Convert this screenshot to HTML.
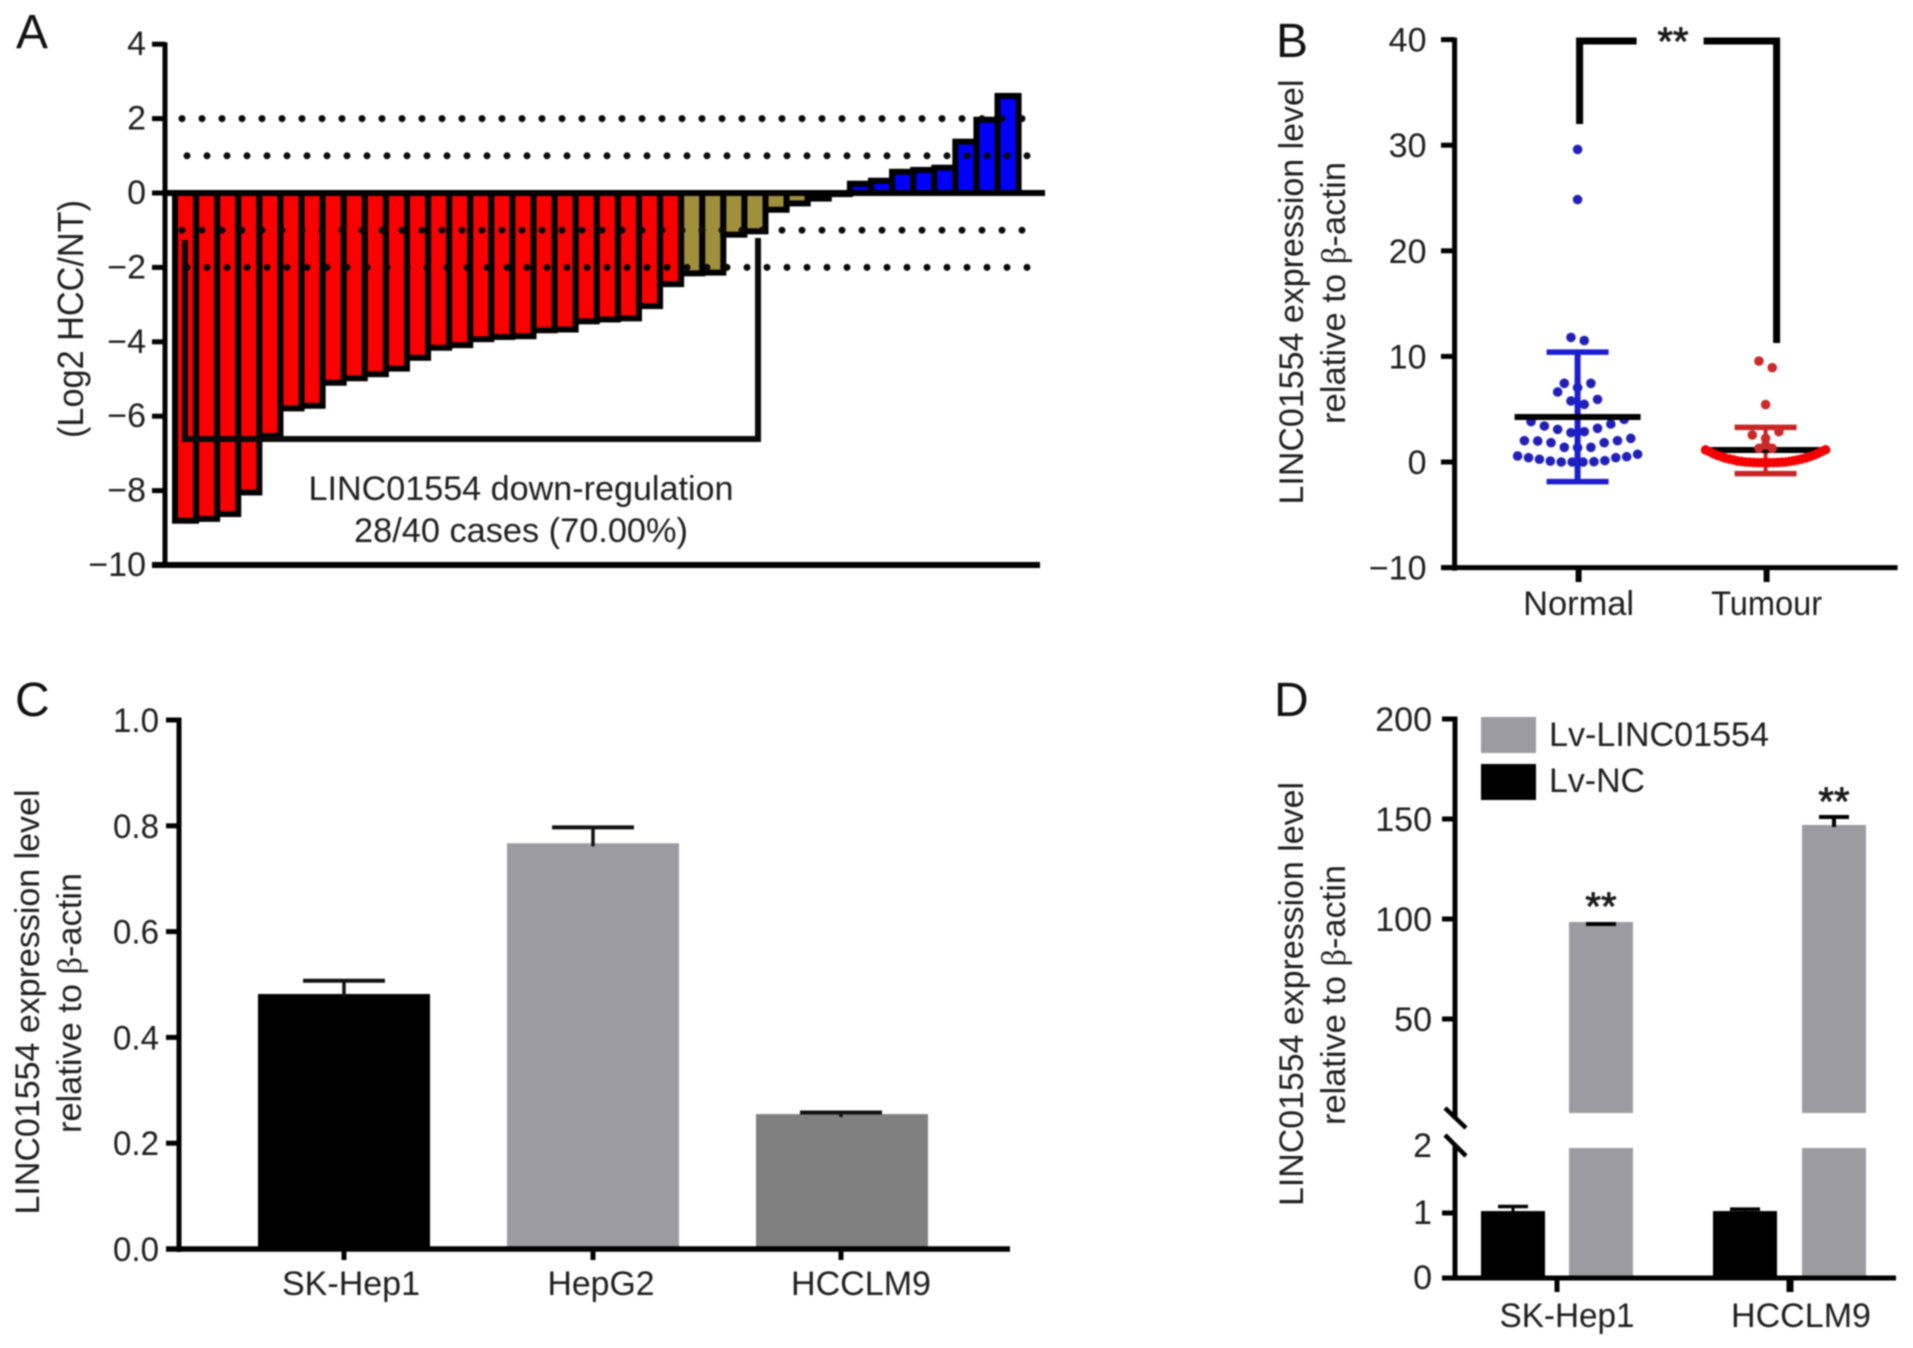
<!DOCTYPE html>
<html lang="en">
<head>
<meta charset="utf-8">
<title>LINC01554 expression figure</title>
<style>
  html, body { margin: 0; padding: 0; background: #fff; }
  body { width: 1913px; height: 1348px; overflow: hidden; }
  svg { display: block; filter: blur(0.7px); }
  text { font-family: "Liberation Sans", "DejaVu Sans", sans-serif; font-size: 34px; fill: #1e1e1e; }
  .panel-letter { font-size: 48px; fill: #111; }
  .serif { font-family: "Liberation Serif", serif; }
</style>
</head>
<body>
<svg id="fig" xmlns="http://www.w3.org/2000/svg" width="1913" height="1348" viewBox="0 0 1913 1348">
  <rect width="1913" height="1348" fill="#fff"/>

  <g id="panelA">
    <text class="panel-letter" x="16" y="48">A</text>
    <text transform="translate(83,319) rotate(-90)" text-anchor="middle" textLength="238" lengthAdjust="spacingAndGlyphs" style="font-size:36px">(Log2 HCC/NT)</text>
  </g>
  <g id="panelB">
    <text class="panel-letter" x="1276" y="57">B</text>
    <text transform="translate(1303,292) rotate(-90)" text-anchor="middle" textLength="425" lengthAdjust="spacingAndGlyphs">LINC01554 expression level</text>
    <text transform="translate(1345,293) rotate(-90)" text-anchor="middle" textLength="262" lengthAdjust="spacingAndGlyphs">relative to <tspan class="serif">β</tspan>-actin</text>
  </g>
  <g id="panelC">
    <text class="panel-letter" x="15" y="716">C</text>
    <text transform="translate(39,1002) rotate(-90)" text-anchor="middle" textLength="425" lengthAdjust="spacingAndGlyphs">LINC01554 expression level</text>
    <text transform="translate(81,1003) rotate(-90)" text-anchor="middle" textLength="260" lengthAdjust="spacingAndGlyphs">relative to <tspan class="serif">β</tspan>-actin</text>
  </g>
  <g id="panelD">
    <text class="panel-letter" x="1274" y="716">D</text>
    <text transform="translate(1303,994) rotate(-90)" text-anchor="middle" textLength="424" lengthAdjust="spacingAndGlyphs">LINC01554 expression level</text>
    <text transform="translate(1345,995) rotate(-90)" text-anchor="middle" textLength="260" lengthAdjust="spacingAndGlyphs">relative to <tspan class="serif">β</tspan>-actin</text>
  </g>
</svg>

<script>
// ---------- Panel A data ----------
const aValues = [-8.81,-8.76,-8.63,-8.05,-6.53,-5.79,-5.72,-5.10,-4.98,-4.87,-4.72,-4.43,-4.16,-4.09,-3.93,-3.87,-3.85,-3.69,-3.67,-3.45,-3.40,-3.37,-3.04,-2.45,-2.16,-2.14,-1.12,-1.03,-0.45,-0.28,-0.15,-0.03,0.25,0.33,0.57,0.62,0.68,1.38,1.97,2.61];
const aTicks = [4,2,0,-2,-4,-6,-8,-10];
const aTickLabels = ['4','2','0','−2','−4','−6','−8','−10'];
const aReferenceLines = [2,1,-1,-2];

// ---------- Panel B data ----------
const bTicks = [40,30,20,10,0,-10];
const bTickLabels = ['40','30','20','10','0','−10'];
const bCategories = ['Normal','Tumour'];
const normalRows = [
  [29.6],
  [24.85],
  [11.8,11.5],
  [7.45,7.04,7.45],
  [6.63,5.78,5.46,5.93],
  [3.82,3.41,3.09,2.78,2.87,3.19,3.6,4.04],
  [2.02,1.99,1.83,1.39,1.36,1.39,1.83,2.02,2.24],
  [0.57,0.41,0.26,0.09,0,0,0,0.03,0.13,0.41,0.5,0.73]
];
const tumourRows = [
  [9.56,8.93],
  [5.44],
  [2.56,2.24,2.87],
  [1.61],
  [1.3,1.3],
  [1.14,0.98,0.78,0.62,0.5,0.36,0.28,0.2,0.1,0.06,0,-0.02,-0.04,-0.06,-0.06,-0.06,-0.06,-0.06,-0.04,-0.02,0,0.06,0.12,0.2,0.28,0.38,0.5,0.64,0.8,1,1.16]
];
const bMeans = [4.26,1.14];
const bErrorHigh = [10.4,3.28];
const bErrorLow = [-1.86,-1.1];

// ---------- Panel C data ----------
const cTicks = [1.0,0.8,0.6,0.4,0.2,0.0];
const cTickLabels = ['1.0','0.8','0.6','0.4','0.2','0.0'];
const cCategories = ['SK-Hep1','HepG2','HCCLM9'];
const cValues = [0.482,0.767,0.255];
const cErrorHigh = [0.507,0.797,0.258];

// ---------- Panel D data ----------
const dUpperTicks = [200,150,100,50];
const dUpperTickLabels = ['200','150','100','50'];
const dLowerTicks = [2,1,0];
const dLowerTickLabels = ['2','1','0'];
const dCategories = ['SK-Hep1','HCCLM9'];
const dNcValues = [1.03,1.03];
const dNcErrorHigh = [1.1,1.06];
const dLvValues = [98.5,147];
const dLvErrorHigh = [97.5,151];

// ---------- helpers ----------
const NS = 'http://www.w3.org/2000/svg';
function mk(tag, parent, props) {
  const node = document.createElementNS(NS, tag);
  for (const k in props) node.setAttribute(k, props[k]);
  parent.appendChild(node);
  return node;
}
function seg(parent, x1, y1, x2, y2, color, width, cap) {
  return mk('line', parent, { x1: x1, y1: y1, x2: x2, y2: y2, stroke: color, 'stroke-width': width, 'stroke-linecap': cap || 'butt' });
}
function label(parent, x, y, str, anchor, len) {
  const t = mk('text', parent, { x: x, y: y, 'text-anchor': anchor || 'middle' });
  if (len) {
    t.setAttribute('textLength', len);
    t.setAttribute('lengthAdjust', 'spacingAndGlyphs');
  }
  t.textContent = str;
  return t;
}

// ---------- Panel A ----------
const pA = document.getElementById('panelA');
const aY = v => 193 - 37.2 * v;
const aX0 = 175, aStep = 21.09;
const aColor = v => v >= 0 ? '#0000fb' : (v > -2.3 ? '#a08f3c' : '#fb0000');
aValues.forEach((v, i) => {
  const top = Math.min(aY(v), aY(0));
  const bar = mk('rect', pA, { x: aX0 + i * aStep, y: top, width: aStep, height: Math.abs(aY(v) - aY(0)), fill: aColor(v), stroke: '#000', 'stroke-width': 6 });
  
  
});
aReferenceLines.forEach((v, i) => {
  const startX = (v === 2 || v === -1) ? 182 : 187;
  const dots = seg(pA, startX, aY(v), 1030, aY(v), '#0a0a0a', 7, 'round');
  dots.setAttribute('stroke-dasharray', '0 20');
  
  
});
const aBracket = mk('polyline', pA, { points: '185,240 185,' + 439 + ' 758,439 758,238', fill: 'none', stroke: '#0a0a0a', 'stroke-width': 6 });


const aYAxis = seg(pA, 165, aY(4) - 2, 165, aY(-10) + 3, '#000', 5);


const aZero = seg(pA, 165, aY(0), 1045, aY(0), '#000', 6);


const aBase = seg(pA, 152, aY(-10), 1040, aY(-10), '#000', 6);


aTicks.forEach((v, i) => {
  const tick = seg(pA, 152, aY(v), 165, aY(v), '#000', 5);
  
  
  const tl = label(pA, 146, aY(v) + 11, aTickLabels[i], 'end');
  
  
});
const aNote1 = label(pA, 521, 500, 'LINC01554 down-regulation', 'middle', 425);


const aNote2 = label(pA, 521, 542, '28/40 cases (70.00%)', 'middle', 334);



// ---------- Panel B ----------
const pB = document.getElementById('panelB');
const bY = v => 462 - 10.56 * v;
const bCenters = [1577.6, 1765.6];
const swarmGap = 13.3, swarmWidth = 120;
function drawSwarm(rows, cx, colorFor) {
  rows.forEach(row => {
    const gap = row.length > 1 ? Math.min(swarmGap, swarmWidth / (row.length - 1)) : 0;
    row.forEach((v, i) => {
      const dot = mk('circle', pB, { cx: cx + (i - (row.length - 1) / 2) * gap, cy: bY(v), r: 4.8, fill: colorFor(row) });
      
      
    });
  });
}
function drawErrorBar(i, color, capHalf, mainWidth) {
  const cx = bCenters[i];
  const stem = seg(pB, cx, bY(bErrorHigh[i]), cx, bY(bErrorLow[i]), color, mainWidth);
  
  
  [bErrorHigh[i], bErrorLow[i]].forEach(v => {
    const cap = seg(pB, cx - capHalf, bY(v), cx + capHalf, bY(v), color, 5.5);
    
    
  });
}
function drawMean(i, halfWidth) {
  const m = seg(pB, bCenters[i] - halfWidth, bY(bMeans[i]), bCenters[i] + halfWidth, bY(bMeans[i]), '#000', 6);
  
  
}
drawSwarm(normalRows, bCenters[0], () => '#2020b8');
drawErrorBar(0, '#1c1cd0', 31, 6);
drawMean(0, 63);
drawErrorBar(1, '#c92424', 31, 4);
drawMean(1, 58);
drawSwarm(tumourRows, bCenters[1], row => row.length > 12 ? '#f40000' : '#c92a2a');

const bYAxis = seg(pB, 1454.6, bY(40) - 2, 1454.6, bY(-10) + 3, '#000', 5);


const bXAxis = seg(pB, 1441, bY(-10), 1897.6, bY(-10), '#000', 5);


bTicks.forEach((v, i) => {
  const tick = seg(pB, 1441, bY(v), 1454.6, bY(v), '#000', 5);
  
  
  const tl = label(pB, 1426.5, bY(v) + 12, bTickLabels[i], 'end');
  
  
});
bCategories.forEach((c, i) => {
  const cx = bCenters[i] + 1;
  const tick = seg(pB, cx, bY(-10), cx, 582, '#000', 6);
  
  
  const tl = label(pB, cx, 615, c, 'middle', 111);
  
  
});
const bSig1 = mk('polyline', pB, { points: '1636.6,41 1579.6,41 1579.6,124', fill: 'none', stroke: '#000', 'stroke-width': 7 });


const bSig2 = mk('polyline', pB, { points: '1703.6,41 1776.6,41 1776.6,343', fill: 'none', stroke: '#000', 'stroke-width': 7 });


const bStars = label(pB, 1673, 55, '**', 'middle');
bStars.setAttribute('style', 'font-size:40px;stroke:#111;stroke-width:0.8px');



// ---------- Panel C ----------
const pC = document.getElementById('panelC');
const cY = v => 1249 - 529 * v;
const cBarX = [258, 507, 756];
const cBarW = 172;
const cTickX = [344, 593, 841];
const cBarFill = ['#000000', '#9c9ba2', '#808080'];
const cLabelX = [351, 601, 861];
const cLabelLen = [138, 107, 140];
cCategories.forEach((c, i) => {
  const bar = mk('rect', pC, { x: cBarX[i], y: cY(cValues[i]), width: cBarW, height: cY(0) - cY(cValues[i]), fill: cBarFill[i] });
  
  
  const stem = seg(pC, cTickX[i], cY(cErrorHigh[i]), cTickX[i], cY(cValues[i]) + 3, '#111', 3.5);
  
  
  const cap = seg(pC, cTickX[i] - 41, cY(cErrorHigh[i]), cTickX[i] + 41, cY(cErrorHigh[i]), '#111', 4);
  
  
  const tick = seg(pC, cTickX[i], cY(0), cTickX[i], 1260, '#000', 5);
  
  
  const tl = label(pC, cLabelX[i], 1295, c, 'middle', cLabelLen[i]);
  
  
});
const cYAxis = seg(pC, 179, cY(1) - 2.5, 179, cY(0) + 3, '#000', 5);


const cXAxis = seg(pC, 166, cY(0), 1010, cY(0), '#000', 5.5);


cTicks.forEach((v, i) => {
  const tick = seg(pC, 166, cY(v), 179, cY(v), '#000', 5);
  
  
  const tl = label(pC, 159, cY(v) + 12, cTickLabels[i], 'end', 46);
  
  
});

// ---------- Panel D ----------
const pD = document.getElementById('panelD');
const dYUpper = v => 1119 - 2 * v;
const dYLower = v => 1278 - 65 * v;
const dBreakFloor = 3, dBreakCeil = 2;
const dNcX = [1481, 1713];
const dLvX = [1569, 1802];
const dBarW = 64;
const dTickX = [1557, 1790];
const dLabelX = [1567, 1801];
const dLabelLen = [135, 140];
dCategories.forEach((c, i) => {
  const nc = mk('rect', pD, { x: dNcX[i], y: dYLower(dNcValues[i]), width: dBarW, height: dYLower(0) - dYLower(dNcValues[i]), fill: '#000' });
  
  
  const ncCx = dNcX[i] + dBarW / 2;
  const ncStem = seg(pD, ncCx, dYLower(dNcErrorHigh[i]), ncCx, dYLower(dNcValues[i]), '#000', 3);
  
  
  const ncCap = seg(pD, ncCx - 15, dYLower(dNcErrorHigh[i]), ncCx + 15, dYLower(dNcErrorHigh[i]), '#000', 3.5);
  
  

  const lvLow = mk('rect', pD, { x: dLvX[i], y: dYLower(dBreakCeil), width: dBarW, height: dYLower(0) - dYLower(dBreakCeil), fill: '#9c9ba2' });
  
  
  const lvHigh = mk('rect', pD, { x: dLvX[i], y: dYUpper(dLvValues[i]), width: dBarW, height: dYUpper(dBreakFloor) - dYUpper(dLvValues[i]), fill: '#9c9ba2' });
  
  
  const lvCx = dLvX[i] + dBarW / 2;
  const lvStem = seg(pD, lvCx, dYUpper(dLvErrorHigh[i]), lvCx, dYUpper(dLvValues[i]) + 2, '#000', 4);
  
  
  const lvCap = seg(pD, lvCx - 15, dYUpper(dLvErrorHigh[i]), lvCx + 15, dYUpper(dLvErrorHigh[i]), '#000', 4);
  
  
  const stars = label(pD, lvCx, Math.min(dYUpper(dLvValues[i]), dYUpper(dLvErrorHigh[i])) - 2, '**', 'middle');
  stars.setAttribute('style', 'font-size:40px;stroke:#111;stroke-width:0.8px');
  
  

  const tick = seg(pD, dTickX[i], dYLower(0), dTickX[i], 1292, '#000', i === 0 ? 5 : 7);
  
  
  const tl = label(pD, dLabelX[i], 1327, c, 'middle', dLabelLen[i]);
  
  
});
const dAxisUpper = seg(pD, 1455, dYUpper(200) - 2.5, 1455, 1118, '#000', 5);


const dAxisLower = seg(pD, 1455, 1146, 1455, dYLower(0) + 2.5, '#000', 5);


const dSlash1 = seg(pD, 1445, 1108, 1466, 1128, '#000', 4.5);


const dSlash2 = seg(pD, 1445, 1135, 1466, 1156, '#000', 4.5);


const dXAxis = seg(pD, 1442, dYLower(0), 1896, dYLower(0), '#000', 5);


dUpperTicks.forEach((v, i) => {
  const tick = seg(pD, 1442, dYUpper(v), 1455, dYUpper(v), '#000', 5);
  
  
  const tl = label(pD, 1432, dYUpper(v) + 12, dUpperTickLabels[i], 'end');
  
  
});
dLowerTicks.forEach((v, i) => {
  if (v !== dBreakCeil) {
    const tick = seg(pD, 1442, dYLower(v), 1455, dYLower(v), '#000', 5);
    
    
  }
  const tl = label(pD, 1432, dYLower(v) + (v === dBreakCeil ? 9 : 11), dLowerTickLabels[i], 'end');
  
  
});
const legLv = mk('rect', pD, { x: 1481, y: 717, width: 55, height: 36, fill: '#9c9ba2' });


const legLvText = label(pD, 1549, 746, 'Lv-LINC01554', 'start', 220);


const legNc = mk('rect', pD, { x: 1481, y: 764, width: 55, height: 36, fill: '#000' });


const legNcText = label(pD, 1549, 792, 'Lv-NC', 'start', 96);


</script>
</body>
</html>
